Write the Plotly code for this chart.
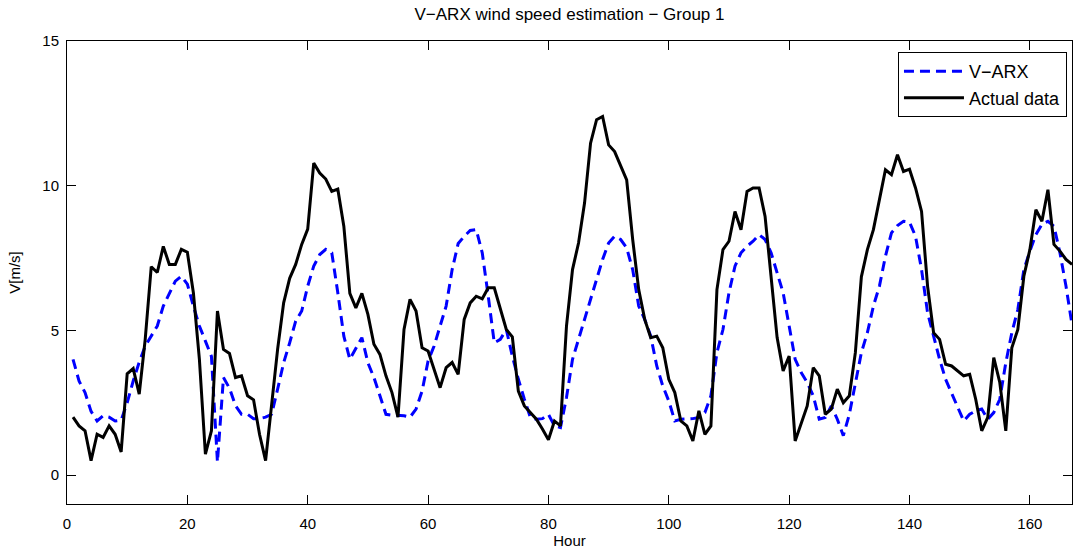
import plotly.graph_objects as go

hours = list(range(1, 168))

actual = [2.0, 1.7, 1.53, 0.5, 1.41, 1.3, 1.7, 1.41, 0.8, 3.5,
          3.68, 2.8, 4.7, 7.2, 7.0, 7.9, 7.28, 7.28, 7.8, 7.7,
          6.3, 4.0, 0.72, 1.53, 5.67, 4.34, 4.2, 3.37, 3.43, 2.74,
          2.6, 1.4, 0.5, 2.4, 4.35, 5.95, 6.8, 7.28, 7.97, 8.5,
          10.78, 10.44, 10.23, 9.8, 9.88, 8.6, 6.28, 5.78, 6.28, 5.55,
          4.52, 4.17, 3.43, 2.85, 2.0, 5.03, 6.07, 5.67, 4.4, 4.29,
          3.66, 3.02, 3.71, 3.89, 3.48, 5.38, 5.95, 6.18, 6.09, 6.47,
          6.47, 5.72, 5.03, 4.78, 2.9, 2.39, 2.16, 1.93, 1.59, 1.22,
          1.87, 1.7, 5.15, 7.1, 8.02, 9.4, 11.47, 12.28, 12.39, 11.41,
          11.18, 10.72, 10.2, 8.14, 6.41, 5.38, 4.75, 4.8, 4.4, 3.31,
          2.85, 1.87, 1.7, 1.18, 2.22, 1.41, 1.7, 6.41, 7.79, 8.08,
          9.11, 8.48, 9.8, 9.92, 9.92, 8.94, 6.87, 4.75, 3.6, 4.11,
          1.18, 1.76, 2.39, 3.71, 3.43, 2.1, 2.28, 2.97, 2.5, 2.74,
          4.23, 6.85, 7.79, 8.48, 9.52, 10.55, 10.38, 11.07, 10.49, 10.57,
          9.92, 9.11, 6.53, 4.92, 4.69, 3.83, 3.77, 3.6, 3.43, 3.48,
          2.62, 1.53, 1.99, 4.06, 3.2, 1.53, 4.4, 5.03, 6.87, 7.79,
          9.17, 8.77, 9.86, 7.97, 7.74, 7.45, 7.28]

varx = [4.0, 3.25, 2.85, 2.2, 1.87, 2.05, 2.0, 1.87, 1.9, 2.5,
        3.25, 3.9, 4.46, 4.8, 5.15, 5.84, 6.3, 6.7, 6.87, 6.6,
        5.84, 5.15, 4.63, 4.1, 0.45, 3.37, 3.0, 2.4, 2.1, 2.1,
        1.95, 1.95, 2.0, 2.1, 2.97, 3.88, 4.57, 5.32, 5.67, 6.53,
        7.22, 7.62, 7.8, 7.68, 6.3, 4.8, 4.0, 4.4, 4.75, 3.88,
        3.37, 2.74, 2.1, 2.07, 2.05, 2.05, 2.0, 2.28, 2.9, 3.94,
        4.46, 5.15, 5.84, 7.1, 8.0, 8.25, 8.45, 8.48, 7.68, 6.18,
        4.57, 4.69, 5.03, 4.11, 3.31, 2.62, 1.99, 1.93, 1.95, 2.1,
        1.7, 1.64, 2.68, 4.0, 4.69, 5.32, 6.01, 6.7, 7.45, 8.02,
        8.25, 8.14, 7.85, 7.1, 5.84, 5.38, 4.8, 3.77, 3.08, 2.56,
        1.87, 1.93, 1.93, 1.95, 1.99, 2.16, 2.74, 4.23, 5.03, 6.3,
        7.22, 7.68, 7.91, 8.08, 8.31, 8.14, 7.68, 6.99, 6.3, 5.15,
        4.0, 3.54, 3.2, 2.74, 1.93, 1.99, 2.39, 1.93, 1.36, 2.1,
        3.2, 4.23, 4.92, 5.84, 6.53, 7.56, 8.37, 8.62, 8.77, 8.74,
        8.25, 7.1, 5.61, 4.8, 4.0, 3.31, 2.85, 2.39, 1.87, 2.1,
        2.22, 2.28, 1.93, 2.16, 2.62, 3.88, 4.92, 5.72, 7.1, 7.74,
        8.31, 8.66, 8.77, 8.6, 7.68, 6.53, 5.2]

x_ticks = [0, 20, 40, 60, 80, 100, 120, 140, 160]
y_ticks = [0, 5, 10, 15]

FONT = "Liberation Sans, Arial, sans-serif"

fig = go.Figure()
fig.add_trace(go.Scatter(x=hours, y=varx, mode="lines", name="V\u2212ARX",
                         line=dict(color="#0000ff", width=3, dash="10px,6px")))
fig.add_trace(go.Scatter(x=hours, y=actual, mode="lines", name="Actual data",
                         line=dict(color="black", width=3)))

axis_common = dict(showgrid=False, zeroline=False, showline=True, linecolor="black",
                   linewidth=1, mirror="ticks", ticks="inside", ticklen=9,
                   tickcolor="black", tickfont=dict(family=FONT, size=15, color="black"))

fig.update_layout(
    width=1073, height=554,
    margin=dict(l=67, r=1, t=41, b=50),
    paper_bgcolor="white", plot_bgcolor="white",
    font=dict(family=FONT, size=15, color="black"),
    title=dict(text="V\u2212ARX wind speed estimation \u2212 Group 1", xref="paper", x=0.5,
               xanchor="center", y=1 - 14 / 554, yanchor="middle",
               font=dict(family=FONT, size=17, color="black")),
    xaxis=dict(range=[0, 167], tickvals=x_ticks, ticklabelstandoff=6,
               title=dict(text="Hour", standoff=2, font=dict(family=FONT, size=15)),
               **axis_common),
    yaxis=dict(range=[-1, 15], tickvals=y_ticks, ticklabelstandoff=4,
               title=dict(text="V[m/s]", standoff=18, font=dict(family=FONT, size=15)),
               **axis_common),
    legend=dict(x=0.995, xanchor="right", y=0.976, yanchor="top",
                bgcolor="white", bordercolor="black", borderwidth=1,
                font=dict(family=FONT, size=18, color="black"),
                tracegroupgap=0, itemwidth=60),
    showlegend=True,
)

fig.write_html("out.html")
